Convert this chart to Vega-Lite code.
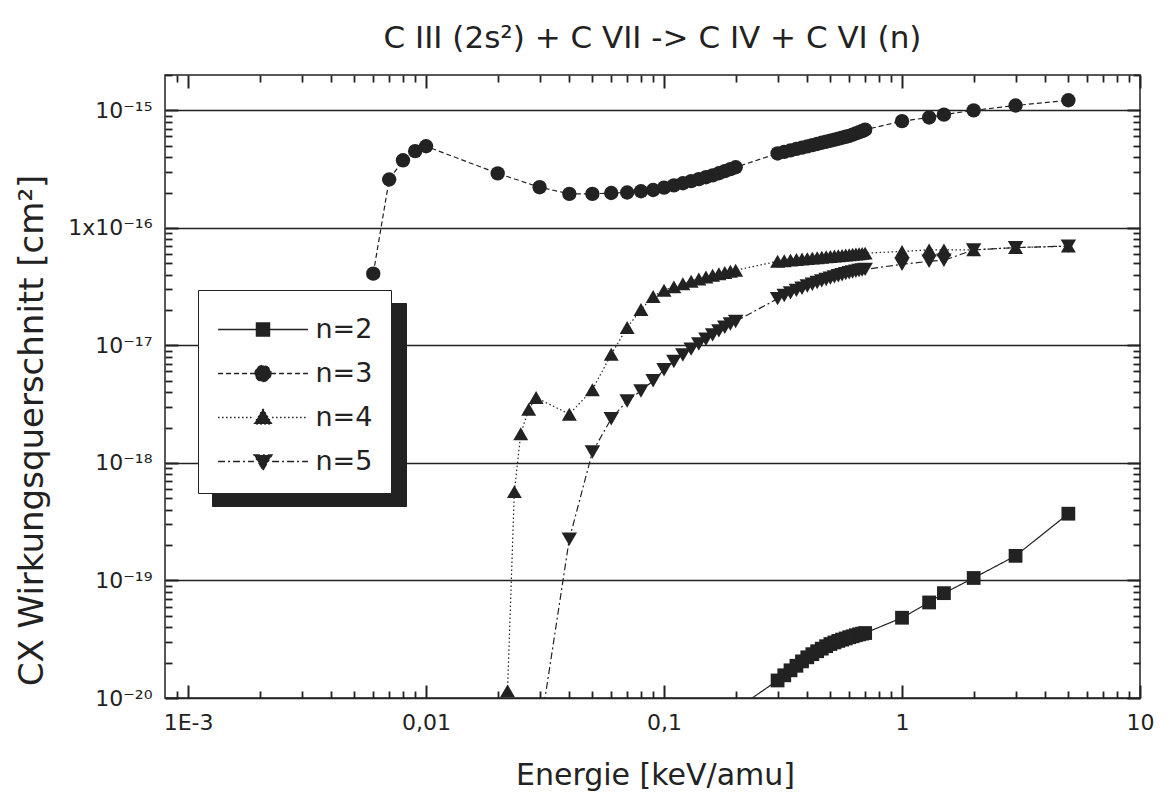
{
"$schema": "https://vega.github.io/schema/vega-lite/v6.json",
"width": 975, "height": 623,
"autosize": "none",
"padding": {"left": 165, "top": 75, "right": 28, "bottom": 100},
"background": "white",
"title": {"text": "C III (2s²) + C VII -> C IV + C VI (n)", "fontSize": 31, "fontWeight": "normal", "font": "DejaVu Sans", "color": "#222", "offset": 19},
"data": {"values": [
{"E":0.2,"sigma":8e-21,"n":"n=2"},{"E":0.3,"sigma":1.41e-20,"n":"n=2"},{"E":0.32,"sigma":1.56e-20,"n":"n=2"},{"E":0.34,"sigma":1.72e-20,"n":"n=2"},{"E":0.36,"sigma":1.88e-20,"n":"n=2"},{"E":0.38,"sigma":2.05e-20,"n":"n=2"},{"E":0.4,"sigma":2.22e-20,"n":"n=2"},{"E":0.42,"sigma":2.36e-20,"n":"n=2"},{"E":0.44,"sigma":2.5e-20,"n":"n=2"},{"E":0.46,"sigma":2.63e-20,"n":"n=2"},{"E":0.48,"sigma":2.76e-20,"n":"n=2"},{"E":0.5,"sigma":2.88e-20,"n":"n=2"},{"E":0.52,"sigma":2.97e-20,"n":"n=2"},{"E":0.54,"sigma":3.06e-20,"n":"n=2"},{"E":0.56,"sigma":3.14e-20,"n":"n=2"},{"E":0.58,"sigma":3.21e-20,"n":"n=2"},{"E":0.6,"sigma":3.29e-20,"n":"n=2"},{"E":0.62,"sigma":3.35e-20,"n":"n=2"},{"E":0.64,"sigma":3.42e-20,"n":"n=2"},{"E":0.66,"sigma":3.48e-20,"n":"n=2"},{"E":0.68,"sigma":3.53e-20,"n":"n=2"},{"E":0.7,"sigma":3.57e-20,"n":"n=2"},{"E":1,"sigma":4.82e-20,"n":"n=2"},{"E":1.3,"sigma":6.5e-20,"n":"n=2"},{"E":1.5,"sigma":7.8e-20,"n":"n=2"},{"E":2,"sigma":1.05e-19,"n":"n=2"},{"E":3,"sigma":1.62e-19,"n":"n=2"},{"E":5,"sigma":3.7e-19,"n":"n=2"},
{"E":0.006,"sigma":4.08e-17,"n":"n=3"},{"E":0.007,"sigma":2.58e-16,"n":"n=3"},{"E":0.008,"sigma":3.76e-16,"n":"n=3"},{"E":0.009,"sigma":4.5e-16,"n":"n=3"},{"E":0.01,"sigma":4.95e-16,"n":"n=3"},{"E":0.02,"sigma":2.91e-16,"n":"n=3"},{"E":0.03,"sigma":2.22e-16,"n":"n=3"},{"E":0.04,"sigma":1.95e-16,"n":"n=3"},{"E":0.05,"sigma":1.95e-16,"n":"n=3"},{"E":0.06,"sigma":1.98e-16,"n":"n=3"},{"E":0.07,"sigma":2.0e-16,"n":"n=3"},{"E":0.08,"sigma":2.05e-16,"n":"n=3"},{"E":0.09,"sigma":2.1e-16,"n":"n=3"},{"E":0.1,"sigma":2.2e-16,"n":"n=3"},{"E":0.11,"sigma":2.3e-16,"n":"n=3"},{"E":0.12,"sigma":2.4e-16,"n":"n=3"},{"E":0.13,"sigma":2.5e-16,"n":"n=3"},{"E":0.14,"sigma":2.6e-16,"n":"n=3"},{"E":0.15,"sigma":2.7e-16,"n":"n=3"},{"E":0.16,"sigma":2.8e-16,"n":"n=3"},{"E":0.17,"sigma":2.92e-16,"n":"n=3"},{"E":0.18,"sigma":3.04e-16,"n":"n=3"},{"E":0.19,"sigma":3.16e-16,"n":"n=3"},{"E":0.2,"sigma":3.28e-16,"n":"n=3"},
{"E":0.3,"sigma":4.3e-16,"n":"n=3"},{"E":0.32,"sigma":4.43e-16,"n":"n=3"},{"E":0.34,"sigma":4.57e-16,"n":"n=3"},{"E":0.36,"sigma":4.7e-16,"n":"n=3"},{"E":0.38,"sigma":4.82e-16,"n":"n=3"},{"E":0.4,"sigma":4.94e-16,"n":"n=3"},{"E":0.42,"sigma":5.06e-16,"n":"n=3"},{"E":0.44,"sigma":5.18e-16,"n":"n=3"},{"E":0.46,"sigma":5.3e-16,"n":"n=3"},{"E":0.48,"sigma":5.41e-16,"n":"n=3"},{"E":0.5,"sigma":5.52e-16,"n":"n=3"},{"E":0.52,"sigma":5.63e-16,"n":"n=3"},{"E":0.54,"sigma":5.74e-16,"n":"n=3"},{"E":0.56,"sigma":5.85e-16,"n":"n=3"},{"E":0.58,"sigma":5.96e-16,"n":"n=3"},{"E":0.6,"sigma":6.07e-16,"n":"n=3"},{"E":0.62,"sigma":6.22e-16,"n":"n=3"},{"E":0.64,"sigma":6.37e-16,"n":"n=3"},{"E":0.66,"sigma":6.52e-16,"n":"n=3"},{"E":0.68,"sigma":6.67e-16,"n":"n=3"},{"E":0.7,"sigma":6.85e-16,"n":"n=3"},{"E":1,"sigma":8.1e-16,"n":"n=3"},{"E":1.3,"sigma":8.7e-16,"n":"n=3"},{"E":1.5,"sigma":9.2e-16,"n":"n=3"},{"E":2,"sigma":1.0e-15,"n":"n=3"},{"E":3,"sigma":1.1e-15,"n":"n=3"},{"E":5,"sigma":1.22e-15,"n":"n=3"},
{"E":0.022,"sigma":1.15e-20,"n":"n=4"},{"E":0.0235,"sigma":5.7e-19,"n":"n=4"},{"E":0.025,"sigma":1.77e-18,"n":"n=4"},{"E":0.027,"sigma":2.86e-18,"n":"n=4"},{"E":0.029,"sigma":3.6e-18,"n":"n=4"},{"E":0.04,"sigma":2.6e-18,"n":"n=4"},{"E":0.05,"sigma":4.2e-18,"n":"n=4"},{"E":0.06,"sigma":8.4e-18,"n":"n=4"},{"E":0.07,"sigma":1.42e-17,"n":"n=4"},{"E":0.08,"sigma":2.02e-17,"n":"n=4"},{"E":0.09,"sigma":2.61e-17,"n":"n=4"},{"E":0.1,"sigma":2.95e-17,"n":"n=4"},{"E":0.11,"sigma":3.15e-17,"n":"n=4"},{"E":0.12,"sigma":3.35e-17,"n":"n=4"},{"E":0.13,"sigma":3.52e-17,"n":"n=4"},{"E":0.14,"sigma":3.68e-17,"n":"n=4"},{"E":0.15,"sigma":3.82e-17,"n":"n=4"},{"E":0.16,"sigma":3.95e-17,"n":"n=4"},{"E":0.17,"sigma":4.07e-17,"n":"n=4"},{"E":0.18,"sigma":4.17e-17,"n":"n=4"},{"E":0.19,"sigma":4.27e-17,"n":"n=4"},{"E":0.2,"sigma":4.36e-17,"n":"n=4"},
{"E":0.3,"sigma":5.2e-17,"n":"n=4"},{"E":0.32,"sigma":5.26e-17,"n":"n=4"},{"E":0.34,"sigma":5.32e-17,"n":"n=4"},{"E":0.36,"sigma":5.38e-17,"n":"n=4"},{"E":0.38,"sigma":5.43e-17,"n":"n=4"},{"E":0.4,"sigma":5.48e-17,"n":"n=4"},{"E":0.42,"sigma":5.53e-17,"n":"n=4"},{"E":0.44,"sigma":5.58e-17,"n":"n=4"},{"E":0.46,"sigma":5.63e-17,"n":"n=4"},{"E":0.48,"sigma":5.68e-17,"n":"n=4"},{"E":0.5,"sigma":5.72e-17,"n":"n=4"},{"E":0.52,"sigma":5.76e-17,"n":"n=4"},{"E":0.54,"sigma":5.8e-17,"n":"n=4"},{"E":0.56,"sigma":5.84e-17,"n":"n=4"},{"E":0.58,"sigma":5.88e-17,"n":"n=4"},{"E":0.6,"sigma":5.92e-17,"n":"n=4"},{"E":0.62,"sigma":5.96e-17,"n":"n=4"},{"E":0.64,"sigma":6.0e-17,"n":"n=4"},{"E":0.66,"sigma":6.03e-17,"n":"n=4"},{"E":0.68,"sigma":6.07e-17,"n":"n=4"},{"E":0.7,"sigma":6.1e-17,"n":"n=4"},{"E":1,"sigma":6.3e-17,"n":"n=4"},{"E":1.3,"sigma":6.5e-17,"n":"n=4"},{"E":1.5,"sigma":6.5e-17,"n":"n=4"},{"E":2,"sigma":6.5e-17,"n":"n=4"},{"E":3,"sigma":6.8e-17,"n":"n=4"},{"E":5,"sigma":7.0e-17,"n":"n=4"},
{"E":0.03,"sigma":5e-21,"n":"n=5"},{"E":0.04,"sigma":2.25e-19,"n":"n=5"},{"E":0.05,"sigma":1.24e-18,"n":"n=5"},{"E":0.06,"sigma":2.38e-18,"n":"n=5"},{"E":0.07,"sigma":3.37e-18,"n":"n=5"},{"E":0.08,"sigma":4.1e-18,"n":"n=5"},{"E":0.09,"sigma":5.0e-18,"n":"n=5"},{"E":0.1,"sigma":6.2e-18,"n":"n=5"},{"E":0.11,"sigma":7.3e-18,"n":"n=5"},{"E":0.12,"sigma":8.3e-18,"n":"n=5"},{"E":0.13,"sigma":9.3e-18,"n":"n=5"},{"E":0.14,"sigma":1.03e-17,"n":"n=5"},{"E":0.15,"sigma":1.13e-17,"n":"n=5"},{"E":0.16,"sigma":1.23e-17,"n":"n=5"},{"E":0.17,"sigma":1.33e-17,"n":"n=5"},{"E":0.18,"sigma":1.43e-17,"n":"n=5"},{"E":0.19,"sigma":1.52e-17,"n":"n=5"},{"E":0.2,"sigma":1.6e-17,"n":"n=5"},
{"E":0.3,"sigma":2.5e-17,"n":"n=5"},{"E":0.32,"sigma":2.66e-17,"n":"n=5"},{"E":0.34,"sigma":2.8e-17,"n":"n=5"},{"E":0.36,"sigma":2.94e-17,"n":"n=5"},{"E":0.38,"sigma":3.07e-17,"n":"n=5"},{"E":0.4,"sigma":3.2e-17,"n":"n=5"},{"E":0.42,"sigma":3.32e-17,"n":"n=5"},{"E":0.44,"sigma":3.43e-17,"n":"n=5"},{"E":0.46,"sigma":3.54e-17,"n":"n=5"},{"E":0.48,"sigma":3.64e-17,"n":"n=5"},{"E":0.5,"sigma":3.74e-17,"n":"n=5"},{"E":0.52,"sigma":3.83e-17,"n":"n=5"},{"E":0.54,"sigma":3.92e-17,"n":"n=5"},{"E":0.56,"sigma":4.0e-17,"n":"n=5"},{"E":0.58,"sigma":4.08e-17,"n":"n=5"},{"E":0.6,"sigma":4.15e-17,"n":"n=5"},{"E":0.62,"sigma":4.22e-17,"n":"n=5"},{"E":0.64,"sigma":4.28e-17,"n":"n=5"},{"E":0.66,"sigma":4.34e-17,"n":"n=5"},{"E":0.68,"sigma":4.39e-17,"n":"n=5"},{"E":0.7,"sigma":4.44e-17,"n":"n=5"},{"E":1,"sigma":4.9e-17,"n":"n=5"},{"E":1.3,"sigma":5.2e-17,"n":"n=5"},{"E":1.5,"sigma":5.3e-17,"n":"n=5"},{"E":2,"sigma":6.5e-17,"n":"n=5"},{"E":3,"sigma":6.8e-17,"n":"n=5"},{"E":5,"sigma":7.0e-17,"n":"n=5"}
]},
"layer": [
{
"transform": [{"filter": "false"}],
"mark": {"type": "point", "opacity": 0},
"encoding": {
"x": {"field": "E", "type": "quantitative", "scale": {"type": "log", "domain": [0.0008, 10], "nice": false}, "axis": null},
"y": {"field": "sigma", "type": "quantitative", "scale": {"type": "log", "domain": [1e-20, 2e-15], "nice": false},
 "axis": {"orient": "left", "values": [1e-20,1e-19,1e-18,1e-17,1e-16,1e-15], "labels": false, "ticks": false, "title": null, "grid": true, "gridColor": "#222", "gridWidth": 1.3}}
}
},
{
"mark": {"type": "line", "color": "#222", "strokeWidth": 1.2, "clip": true},
"encoding": {
"x": {"field": "E", "type": "quantitative",
 "axis": {"orient": "bottom", "values": [0.001,0.01,0.1,1,10],
 "labelExpr": "round(log(datum.value)/LN10)==-3 ? '1E-3' : round(log(datum.value)/LN10)==-2 ? '0,01' : round(log(datum.value)/LN10)==-1 ? '0,1' : round(log(datum.value)/LN10)==0 ? '1' : '10'",
 "offset": -13, "tickSize": 13, "tickWidth": 2, "labelPadding": 14, "labelFontSize": 22,
 "title": "Energie [keV/amu]", "titleFontSize": 30, "titleX": 490, "titleY": 90, "titleBaseline": "middle", "titleAlign": "center"}},
"y": {"field": "sigma", "type": "quantitative",
 "axis": {"orient": "left", "values": [1e-20,1e-19,1e-18,1e-17,1e-16,1e-15],
 "labelExpr": "round(log(datum.value)/LN10)==-15 ? '10⁻¹⁵' : round(log(datum.value)/LN10)==-16 ? '1x10⁻¹⁶' : round(log(datum.value)/LN10)==-17 ? '10⁻¹⁷' : round(log(datum.value)/LN10)==-18 ? '10⁻¹⁸' : round(log(datum.value)/LN10)==-19 ? '10⁻¹⁹' : '10⁻²⁰'",
 "offset": -13, "tickSize": 13, "tickWidth": 2, "labelPadding": 13, "labelFontSize": 22,
 "title": "CX Wirkungsquerschnitt [cm²]", "titleFontSize": 34, "titleX": -146, "titleY": 355, "titleAngle": -90, "titleAlign": "center", "titleBaseline": "middle"}},
"strokeDash": {"field": "n", "type": "nominal", "scale": {"domain": ["n=2","n=3","n=4","n=5"], "range": [[1,0],[5,3],[1.5,2.5],[7,3,2,3]]}, "legend": null}
}
},
{
"mark": {"type": "point", "filled": true, "color": "#222", "opacity": 1, "clip": true},
"encoding": {
"x": {"field": "E", "type": "quantitative",
 "axis": {"orient": "top", "values": [0.001,0.01,0.1,1,10], "labels": false, "title": null, "offset": -13, "tickSize": 13, "tickWidth": 2}},
"y": {"field": "sigma", "type": "quantitative",
 "axis": {"orient": "right", "values": [1e-20,1e-19,1e-18,1e-17,1e-16,1e-15], "labels": false, "title": null, "offset": -13, "tickSize": 13, "tickWidth": 2}},
"shape": {"field": "n", "type": "nominal", "scale": {"domain": ["n=2","n=3","n=4","n=5"], "range": ["square","circle","triangle-up","triangle-down"]}, "legend": null},
"size": {"field": "n", "type": "ordinal", "scale": {"domain": ["n=2","n=3","n=4","n=5"], "range": [190, 240, 320, 320]}, "legend": null}
}
},
{
"transform": [{"filter": "false"}],
"mark": {"type": "point", "opacity": 0},
"encoding": {
"x": {"field": "E", "type": "quantitative",
 "axis": {"orient": "bottom", "values": [0.0009,0.002,0.003,0.004,0.005,0.006,0.007,0.008,0.009,0.02,0.03,0.04,0.05,0.06,0.07,0.08,0.09,0.2,0.3,0.4,0.5,0.6,0.7,0.8,0.9,2,3,4,5,6,7,8,9], "labels": false, "title": null, "offset": -7, "tickSize": 7, "tickWidth": 1.8}},
"y": {"field": "sigma", "type": "quantitative",
 "axis": {"orient": "left", "values": [2e-20,3e-20,4e-20,5e-20,6e-20,7e-20,8e-20,9e-20,2e-19,3e-19,4e-19,5e-19,6e-19,7e-19,8e-19,9e-19,2e-18,3e-18,4e-18,5e-18,6e-18,7e-18,8e-18,9e-18,2e-17,3e-17,4e-17,5e-17,6e-17,7e-17,8e-17,9e-17,2e-16,3e-16,4e-16,5e-16,6e-16,7e-16,8e-16,9e-16,2e-15], "labels": false, "title": null, "offset": -7, "tickSize": 7, "tickWidth": 1.8}},
"color": {"field": "n", "type": "nominal", "scale": {"domain": ["a","b","c","d"], "range": ["#222","#222","#222","#222"]},
 "legend": {"orient": "none", "legendX": 47, "legendY": 228, "title": null, "symbolSize": 1100, "symbolOpacity": 0, "labelExpr": "''", "labelOffset": 123, "labelFontSize": 27, "padding": 18, "rowPadding": 9, "fillColor": "#222", "strokeColor": "#222", "zindex": 1}}
}
},
{
"transform": [{"filter": "false"}],
"mark": {"type": "point", "filled": true, "fill": "#222", "stroke": "#222", "strokeWidth": 1.3, "opacity": 1},
"encoding": {
"x": {"field": "E", "type": "quantitative",
 "axis": {"orient": "top", "values": [0.0009,0.002,0.003,0.004,0.005,0.006,0.007,0.008,0.009,0.02,0.03,0.04,0.05,0.06,0.07,0.08,0.09,0.2,0.3,0.4,0.5,0.6,0.7,0.8,0.9,2,3,4,5,6,7,8,9], "labels": false, "title": null, "offset": -7, "tickSize": 7, "tickWidth": 1.8}},
"y": {"field": "sigma", "type": "quantitative",
 "axis": {"orient": "right", "values": [2e-20,3e-20,4e-20,5e-20,6e-20,7e-20,8e-20,9e-20,2e-19,3e-19,4e-19,5e-19,6e-19,7e-19,8e-19,9e-19,2e-18,3e-18,4e-18,5e-18,6e-18,7e-18,8e-18,9e-18,2e-17,3e-17,4e-17,5e-17,6e-17,7e-17,8e-17,9e-17,2e-16,3e-16,4e-16,5e-16,6e-16,7e-16,8e-16,9e-16,2e-15], "labels": false, "title": null, "offset": -7, "tickSize": 7, "tickWidth": 1.8}},
"shape": {"field": "n", "type": "nominal", "scale": {"domain": ["n=2","n=3","n=4","n=5"], "range": [
 "M-2.18,0L-0.32,0M-0.32,-0.32L0.32,-0.32L0.32,0.32L-0.32,0.32ZM0.32,0L2.18,0",
 "M-2.18,0L-0.39,0M0.39,0A0.39,0.39 0 1,1 -0.39,0A0.39,0.39 0 1,1 0.39,0ZM0.39,0L2.18,0",
 "M-2.18,0L-0.44,0M0,-0.42L0.44,0.32L-0.44,0.32ZM0.44,0L2.18,0",
 "M-2.18,0L-0.44,0M0,0.42L0.44,-0.32L-0.44,-0.32ZM0.44,0L2.18,0"]},
 "legend": {"orient": "none", "legendX": 33, "legendY": 215, "title": null, "symbolSize": 1700, "symbolOffset": 25.5, "labelOffset": 31, "labelFontSize": 27, "labelFont": "DejaVu Sans", "labelColor": "#222", "padding": 18, "rowPadding": 9, "fillColor": "white", "strokeColor": "#222", "symbolStrokeWidth": 1.3, "symbolOpacity": 1, "zindex": 2}},
"strokeDash": {"field": "n", "type": "nominal", "scale": {"domain": ["n=2","n=3","n=4","n=5"], "range": [[1,0],[5,3],[1.5,2.5],[7,3,2,3]]},
 "legend": {"orient": "none", "legendX": 33, "legendY": 215, "title": null, "symbolSize": 1700, "symbolOffset": 25.5, "labelOffset": 31, "labelFontSize": 27, "labelFont": "DejaVu Sans", "labelColor": "#222", "padding": 18, "rowPadding": 9, "fillColor": "white", "strokeColor": "#222", "symbolStrokeWidth": 1.3, "symbolOpacity": 1, "zindex": 2}}
}
}
],
"resolve": {"scale": {"shape": "independent", "strokeDash": "independent", "size": "independent", "color": "independent"}, "axis": {"x": "independent", "y": "independent"}},
"config": {
"font": "DejaVu Sans",
"view": {"stroke": "#222", "strokeWidth": 1.5},
"axis": {"domain": false, "tickColor": "#222", "labelColor": "#222", "labelFont": "DejaVu Sans", "titleFont": "DejaVu Sans", "titleColor": "#222", "titleFontWeight": "normal", "grid": false, "labelOverlap": false, "labelFlush": false, "labelBound": false}
}
}
